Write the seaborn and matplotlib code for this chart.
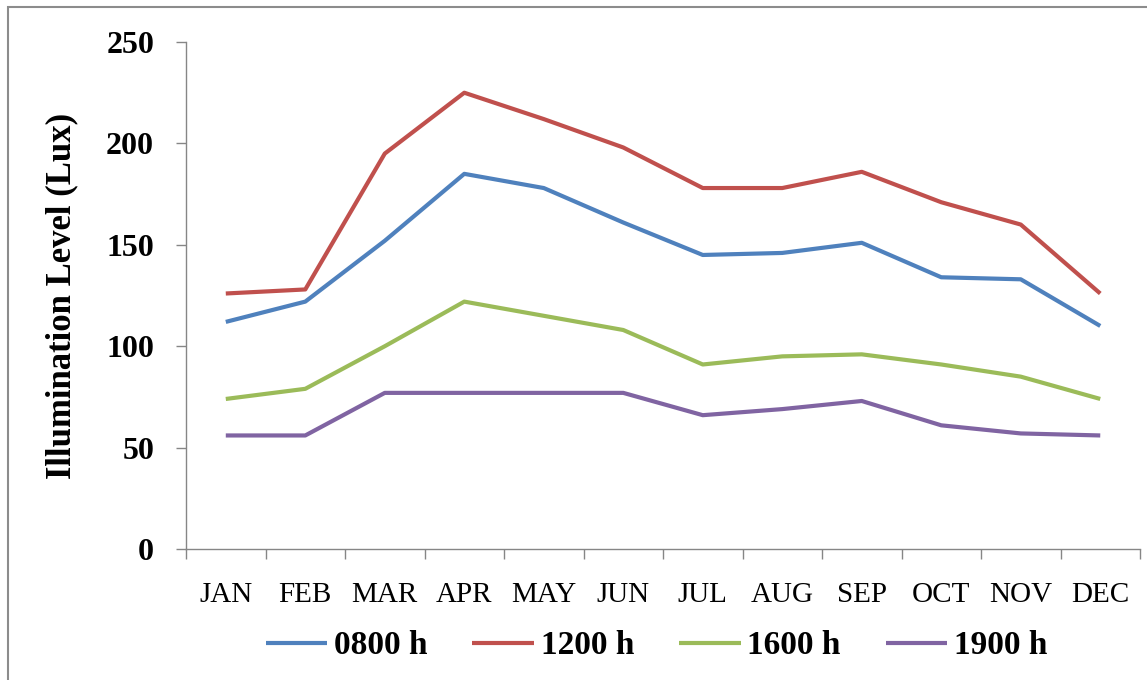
import matplotlib
matplotlib.use("Agg")
import matplotlib.pyplot as plt
from matplotlib.patches import Rectangle
import pandas as pd
import seaborn as sns

# Monthly illumination readings (Lux) at four times of day
months = ["JAN", "FEB", "MAR", "APR", "MAY", "JUN",
          "JUL", "AUG", "SEP", "OCT", "NOV", "DEC"]
h0800 = [112, 122, 152, 185, 178, 161, 145, 146, 151, 134, 133, 110]
h1200 = [126, 128, 195, 225, 212, 198, 178, 178, 186, 171, 160, 126]
h1600 = [74, 79, 100, 122, 115, 108, 91, 95, 96, 91, 85, 74]
h1900 = [56, 56, 77, 77, 77, 77, 66, 69, 73, 61, 57, 56]
series_names = ["0800 h", "1200 h", "1600 h", "1900 h"]
y_ticks = [0, 50, 100, 150, 200, 250]

colors = {"0800 h": "#4F81BD", "1200 h": "#C0504D",
          "1600 h": "#9BBB59", "1900 h": "#8064A2"}

frames = []
for name, vals in zip(series_names, [h0800, h1200, h1600, h1900]):
    frames.append(pd.DataFrame({"month": months, "lux": vals, "time": name}))
df = pd.concat(frames, ignore_index=True)

sns.set_style("white")
plt.rcParams["font.family"] = ["Liberation Serif", "DejaVu Serif"]
plt.rcParams.update({"text.color": "black", "axes.labelcolor": "black",
                     "xtick.labelcolor": "black", "ytick.labelcolor": "black"})

fig = plt.figure(figsize=(11.47, 6.8), dpi=100)
ax = fig.add_axes([0.1622, 0.1926, 0.8317, 0.7456])

sns.lineplot(data=df, x="month", y="lux", hue="time", hue_order=series_names,
             palette=colors, sort=False, linewidth=3, ax=ax,
             solid_joinstyle="round", solid_capstyle="butt")

n = len(months)
ax.set_xlim(-0.5, n - 0.5)
ax.set_ylim(0, 250)

# category boundaries carry the tick marks, centres carry the labels
ax.set_xticks([i - 0.5 for i in range(n + 1)])
ax.set_xticklabels([])
ax.set_xticks(range(n), minor=True)
ax.set_xticklabels(months, minor=True, fontsize=21, color="black")
ax.tick_params(axis="x", which="major", direction="out", length=7,
               width=1, color="#868686", bottom=True)
ax.tick_params(axis="x", which="minor", length=0, pad=24)

ax.set_yticks(y_ticks)
ax.set_yticklabels([str(v) for v in y_ticks], fontsize=23, fontweight="bold",
                   color="black")
ax.tick_params(axis="y", direction="out", length=7, width=1,
               color="#868686", left=True, pad=16)

ax.set_xlabel("")
ax.set_ylabel("Illumination Level (Lux)", fontsize=25, fontweight="bold",
              labelpad=20, color="black")

for side in ("top", "right"):
    ax.spines[side].set_visible(False)
for side in ("left", "bottom"):
    ax.spines[side].set_color("#868686")
    ax.spines[side].set_linewidth(1)

handles, labels = ax.get_legend_handles_labels()
leg = ax.legend(handles, labels, loc="center", bbox_to_anchor=(0.5724, 0.05),
                bbox_transform=fig.transFigure, ncol=4, frameon=False,
                prop={"size": 24, "weight": "bold"}, handlelength=1.85,
                handletextpad=0.2, columnspacing=1.35)
for t in leg.get_texts():
    t.set_color("black")

# outer chart border
fig.add_artist(Rectangle((8 / 1147, -0.2), 2.0, 1.2 - 7 / 680,
                         transform=fig.transFigure, fill=False,
                         edgecolor="#8c8c8c", linewidth=1.5))

fig.savefig("out.png", dpi=100, facecolor="white")
